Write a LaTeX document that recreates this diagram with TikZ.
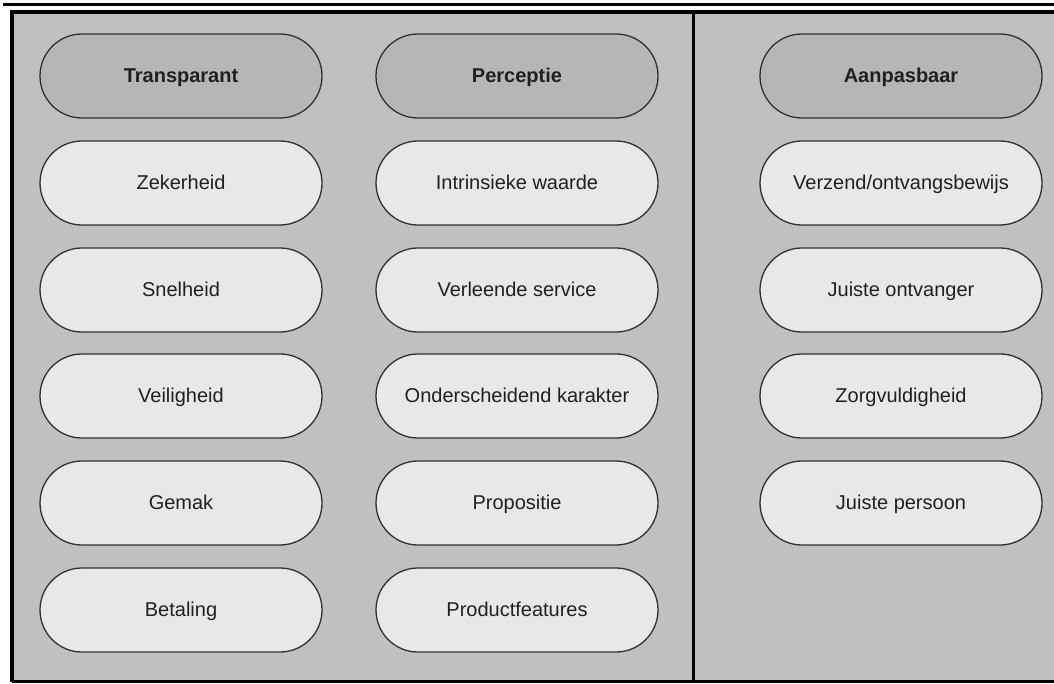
\documentclass[tikz,border=0pt]{standalone}
\usepackage{fontspec}
\setmainfont{Liberation Sans}
\definecolor{panelgray}{HTML}{C0C0C0}
\definecolor{headfill}{HTML}{B6B6B6}
\definecolor{pillfill}{HTML}{E8E8E8}
\definecolor{pillline}{HTML}{303030}
\definecolor{txt}{HTML}{202020}
\begin{document}
\begin{tikzpicture}[x=1pt,y=1pt,
  pill/.style={draw=pillline, line width=1.3pt, fill=pillfill, rounded corners=42pt,
    minimum width=282pt, minimum height=84pt, inner sep=0pt, text=txt,
    text height=13pt, text depth=0pt,
    font=\fontsize{20}{23}\selectfont},
  headpill/.style={pill, fill=headfill, font=\fontsize{20}{23}\selectfont\bfseries}]
\useasboundingbox (0,0) rectangle (1054,683);
\fill[white] (0,0) rectangle (1054,683);
\fill[panelgray] (12,2) rectangle (1056,671);
\draw[line width=3pt] (3,678) -- (1056,678);
\draw[line width=3.5pt] (12,1) -- (12,671) -- (1056,671);
\draw[line width=2.5pt] (12,1.5) -- (1056,1.5);
\draw[line width=3pt] (693,671) -- (693,1);
% column 1
\node[headpill] (t0) at (181,607) {Transparant};
\node[pill] (t1) at (181,500) {Zekerheid};
\node[pill] (t2) at (181,393) {Snelheid};
\node[pill] (t3) at (181,287) {Veiligheid};
\node[pill] (t4) at (181,180) {Gemak};
\node[pill] (t5) at (181,73) {Betaling};
% column 2
\node[headpill] (p0) at (517,607) {Perceptie};
\node[pill] (p1) at (517,500) {Intrinsieke waarde};
\node[pill] (p2) at (517,393) {Verleende service};
\node[pill] (p3) at (517,287) {Onderscheidend karakter};
\node[pill] (p4) at (517,180) {Propositie};
\node[pill] (p5) at (517,73) {Productfeatures};
% column 3
\node[headpill] (a0) at (901,607) {Aanpasbaar};
\node[pill] (a1) at (901,500) {Verzend/ontvangsbewijs};
\node[pill] (a2) at (901,393) {Juiste ontvanger};
\node[pill] (a3) at (901,287) {Zorgvuldigheid};
\node[pill] (a4) at (901,180) {Juiste persoon};
\end{tikzpicture}
\end{document}
